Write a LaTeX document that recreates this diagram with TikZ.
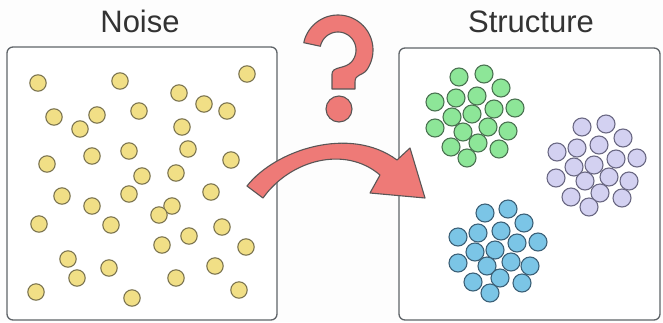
\documentclass[tikz,border=0pt]{standalone}
\usepackage{fontspec}
\setmainfont{Liberation Sans}
\definecolor{bgc}{HTML}{FDFDFD}
\definecolor{boxc}{HTML}{5F6468}
\definecolor{txtc}{HTML}{333333}
\definecolor{redf}{HTML}{EE7A77}
\definecolor{redd}{HTML}{5A5656}
\definecolor{yelf}{HTML}{F1DF86}
\definecolor{yeld}{HTML}{7C7550}
\definecolor{grnf}{HTML}{8DE698}
\definecolor{grnd}{HTML}{4B7352}
\definecolor{purf}{HTML}{D3D1F1}
\definecolor{purd}{HTML}{6B6984}
\definecolor{bluf}{HTML}{7BC5E6}
\definecolor{blud}{HTML}{3C6178}
\begin{document}
\begin{tikzpicture}[x=1pt,y=-1pt,
  panel/.style={draw=boxc, line width=1.3pt, rounded corners=6pt, fill=white},
  title/.style={text=txtc, font=\fontsize{31}{36}\selectfont, anchor=base, inner sep=0pt},
  ydot/.style={fill=yelf, draw=yeld, line width=1.1pt},
  gdot/.style={fill=grnf, draw=grnd, line width=1.1pt},
  pdot/.style={fill=purf, draw=purd, line width=1.1pt},
  bdot/.style={fill=bluf, draw=blud, line width=1.1pt},
  redshape/.style={fill=redf, draw=redd, line width=1.1pt, line join=round}]
\fill[bgc] (0,0) rectangle (663,322);
\useasboundingbox (0,0) rectangle (663,322);
% panels
\path[panel] (7,47) rectangle (277,320);
\path[panel] (399,48) rectangle (660,320);
\coordinate (noisebox) at (142,183);
\coordinate (structbox) at (530,184);
% titles
\node[title] (noise) at (140,32) {Noise};
\node[title] (structure) at (531,32) {Structure};
% yellow noise dots
\foreach \x/\y in {38/83,120/81,247/74,179/93,204/104,227/111,54/117,97/115,139/111,80/129,182/127,47/164,92/156,129/151,188/149,231/160,142/176,176/173,62/196,129/194,211/192,92/206,172/206,159/215,39/224,111/225,222/227,162/245,189/236,246/247,68/259,109/268,77/278,215/266,176/278,36/292,132/298,239/290}
  \draw[ydot] (\x,\y) circle[radius=8.2];
% green cluster
\foreach \x/\y in {459/77,484/74,501/88,435/102,456/98,477/96,494/109,515/108,452/117,472/114,435/128,463/132,488/127,508/131,451/147,478/143,499/149,467/158}
  \draw[gdot] (\x,\y) circle[radius=9];
% purple cluster
\foreach \x/\y in {582/127,606/124,623/138,557/152,577/148,599/145,616/159,637/158,574/167,594/165,556/178,585/181,609/177,629/181,571/197,600/193,622/198,589/207}
  \draw[pdot] (\x,\y) circle[radius=9];
% blue cluster
\foreach \x/\y in {485/213,508/209,524/223,458/237,478/233,501/231,517/243,538/242,475/252,495/250,458/263,487/266,511/262,530/266,473/282,500/278,522/283,490/293}
  \draw[bdot] (\x,\y) circle[radius=9];
% question mark
\draw[redshape] (303.8,42.7)
  -- plot[domain=168:-35, samples=50] ({338+35*cos(\x)},{50-35*sin(\x)})
  .. controls (362,76) and (355,74) .. (355,82)
  -- (355,89) -- (332,89) -- (332,74)
  .. controls (332,66) and (345.4,69.3) .. (351.8,61.6)
  -- plot[domain=-40:168, samples=50] ({338+18*cos(\x)},{50-18*sin(\x)})
  -- cycle;
\draw[redshape] (339,109) circle[radius=13];
% curved arrow
\draw[redshape] (247,186) .. controls (275,150) and (350,125) .. (397,160)
  -- (410,148) -- (425,198) -- (370,193) -- (380,175)
  .. controls (345,145) and (290,160) .. (263,198) -- cycle;
\end{tikzpicture}
\end{document}
